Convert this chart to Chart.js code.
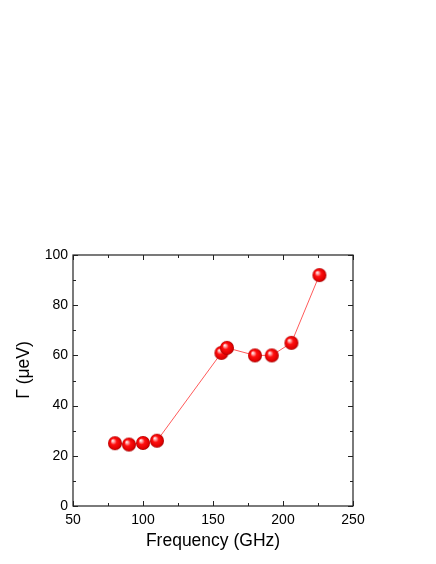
<!DOCTYPE html>
<html><head><meta charset="utf-8">
<script src="https://cdn.jsdelivr.net/npm/chart.js@4"></script>
<style>html,body{margin:0;padding:0;background:#fff}</style>
</head><body>
<canvas id="c" width="436" height="564" style="width:436px;height:564px;display:block"></canvas>
<script>
const frequencyGHz = [80, 90, 100, 110, 156, 160, 180, 192, 206, 226];
const gammaMicroEV = [25, 24.5, 25.1, 26, 61, 63, 60, 60, 65, 92];
const xTickValues = [50, 100, 150, 200, 250];
const yTickValues = [0, 20, 40, 60, 80, 100];
const xTitle = 'Frequency (GHz)';
const yTitle = 'Γ (μeV)';

const FONT = '"Liberation Sans", Arial, sans-serif';

function makeSphere(r) {
  const s = Math.ceil(r * 2 + 2);
  const cv = document.createElement('canvas');
  cv.width = s; cv.height = s;
  const g = cv.getContext('2d');
  const c = s / 2;
  const grad = g.createRadialGradient(c - r * 0.35, c - r * 0.4, 0, c, c, r);
  grad.addColorStop(0, '#ffffff');
  grad.addColorStop(0.18, '#ffb0b0');
  grad.addColorStop(0.45, '#ff1010');
  grad.addColorStop(0.85, '#e00000');
  grad.addColorStop(1, '#a00000');
  g.fillStyle = grad;
  g.beginPath(); g.arc(c, c, r, 0, Math.PI * 2); g.fill();
  return cv;
}
const sphere = makeSphere(7);

const frameTicks = {
  id: 'frameTicks',
  afterDraw(chart) {
    const {ctx, chartArea: a, scales: {x, y}} = chart;
    ctx.save();
    ctx.strokeStyle = '#222';
    ctx.lineWidth = 1.2;
    ctx.strokeRect(a.left, a.top, a.right - a.left, a.bottom - a.top);
    ctx.lineWidth = 1;
    ctx.beginPath();
    const xStep = (xTickValues[1] - xTickValues[0]) / 2;
    for (let v = x.min; v <= x.max + 1e-9; v += xStep) {
      const major = xTickValues.includes(v);
      const L = major ? 5 : 3;
      const px = Math.round(x.getPixelForValue(v)) + 0.5;
      ctx.moveTo(px, a.bottom); ctx.lineTo(px, a.bottom - L);
      ctx.moveTo(px, a.top); ctx.lineTo(px, a.top + L);
    }
    const yStep = (yTickValues[1] - yTickValues[0]) / 2;
    for (let v = y.min; v <= y.max + 1e-9; v += yStep) {
      const major = yTickValues.includes(v);
      const L = major ? 5 : 3;
      const py = Math.round(y.getPixelForValue(v)) + 0.5;
      ctx.moveTo(a.left, py); ctx.lineTo(a.left + L, py);
      ctx.moveTo(a.right, py); ctx.lineTo(a.right - L, py);
    }
    ctx.stroke();
    // y-axis title
    ctx.fillStyle = '#000';
    ctx.font = '17.5px ' + FONT;
    ctx.textAlign = 'center';
    ctx.textBaseline = 'middle';
    ctx.translate(24.5, 370);
    ctx.rotate(-Math.PI / 2);
    ctx.fillText(yTitle, 0, 0);
    ctx.restore();
  }
};

new Chart(document.getElementById('c'), {
  type: 'scatter',
  data: {
    datasets: [{
      data: frequencyGHz.map((f, i) => ({x: f, y: gammaMicroEV[i]})),
      showLine: true,
      borderColor: '#ff5a5a',
      borderWidth: 1,
      pointStyle: sphere,
      pointRadius: 7,
      pointHoverRadius: 7
    }]
  },
  options: {
    responsive: false,
    animation: false,
    events: [],
    layout: {padding: {left: 0, top: 255, right: 83, bottom: 0}},
    plugins: {legend: {display: false}, tooltip: {enabled: false}},
    scales: {
      x: {
        type: 'linear', min: 50, max: 250,
        afterBuildTicks: s => { s.ticks = xTickValues.map(v => ({value: v})); },
        afterFit: s => { s.height = 58; },
        grid: {display: false, drawTicks: false},
        border: {display: false},
        ticks: {color: '#000', font: {family: FONT, size: 14}, padding: 6, maxRotation: 0},
        title: {display: true, text: xTitle, color: '#000', font: {family: FONT, size: 17.5}, padding: {top: 0, bottom: 12}}
      },
      y: {
        type: 'linear', min: 0, max: 100,
        afterBuildTicks: s => { s.ticks = yTickValues.map(v => ({value: v})); },
        afterFit: s => { s.width = 73; },
        grid: {display: false, drawTicks: false},
        border: {display: false},
        ticks: {color: '#000', font: {family: FONT, size: 14}, padding: 5}
      }
    }
  },
  plugins: [frameTicks]
});
</script>
</body></html>
